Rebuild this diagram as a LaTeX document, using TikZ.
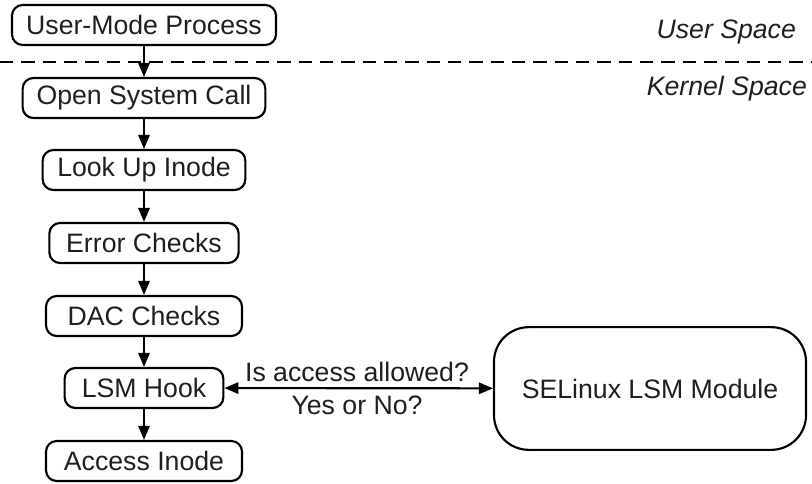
\documentclass[tikz,border=0pt]{standalone}
\usepackage{fontspec}
\setmainfont{Liberation Sans}
\usetikzlibrary{arrows.meta}
\begin{document}
\begin{tikzpicture}[x=0.75pt,y=-0.75pt,
  font=\fontsize{20}{23}\selectfont,
  line width=1.6pt,
  box/.style={draw, rounded corners=8pt, minimum height=30pt, inner sep=0pt, text=black!88},
  big/.style={draw, rounded corners=26pt, minimum width=234pt, minimum height=92pt, inner sep=0pt, text=black!88},
  arr/.style={-{Triangle[length=10.5pt,width=8.5pt]}},
  darr/.style={{Triangle[length=10.5pt,width=8.5pt]}-{Triangle[length=10.5pt,width=8.5pt]}},
  lbl/.style={inner sep=0pt, text=black!88},
  side/.style={inner sep=0pt, anchor=east, font=\fontsize{20}{23}\selectfont\itshape, text=black!88}]
\useasboundingbox (0,0) rectangle (812,484);
\node[box, minimum width=198pt] (ump) at (144,25) {User-Mode Process};
\node[box, minimum width=182pt] (osc) at (144,98) {Open System Call};
\node[box, minimum width=152pt] (lui) at (144,170) {Look Up Inode};
\node[box, minimum width=142pt] (ec) at (144,243) {Error Checks};
\node[box, minimum width=147pt] (dac) at (144,316) {DAC Checks};
\node[box, minimum width=119pt] (lsm) at (144,388) {LSM Hook};
\node[box, minimum width=147pt] (ai) at (144,461) {Access Inode};
\node[big] (sel) at (650,388.5) {SELinux LSM Module};
\coordinate (dl) at (0,62);
\coordinate (dr) at (812,62);
\draw[line width=1.5pt, dash pattern=on 10pt off 6pt] (dl) -- (dr);
\node[side] (us) at (797,32) {User Space};
\node[side] (ks) at (808,89) {Kernel Space};
\draw[arr] (ump) -- (osc);
\draw[arr] (osc) -- (lui);
\draw[arr] (lui) -- (ec);
\draw[arr] (ec) -- (dac);
\draw[arr] (dac) -- (lsm);
\draw[arr] (lsm) -- (ai);
\draw[darr] (lsm) -- (sel);
\node[lbl] (q) at (357,372) {Is access allowed?};
\node[lbl] (a) at (357,405) {Yes or No?};
\end{tikzpicture}
\end{document}
